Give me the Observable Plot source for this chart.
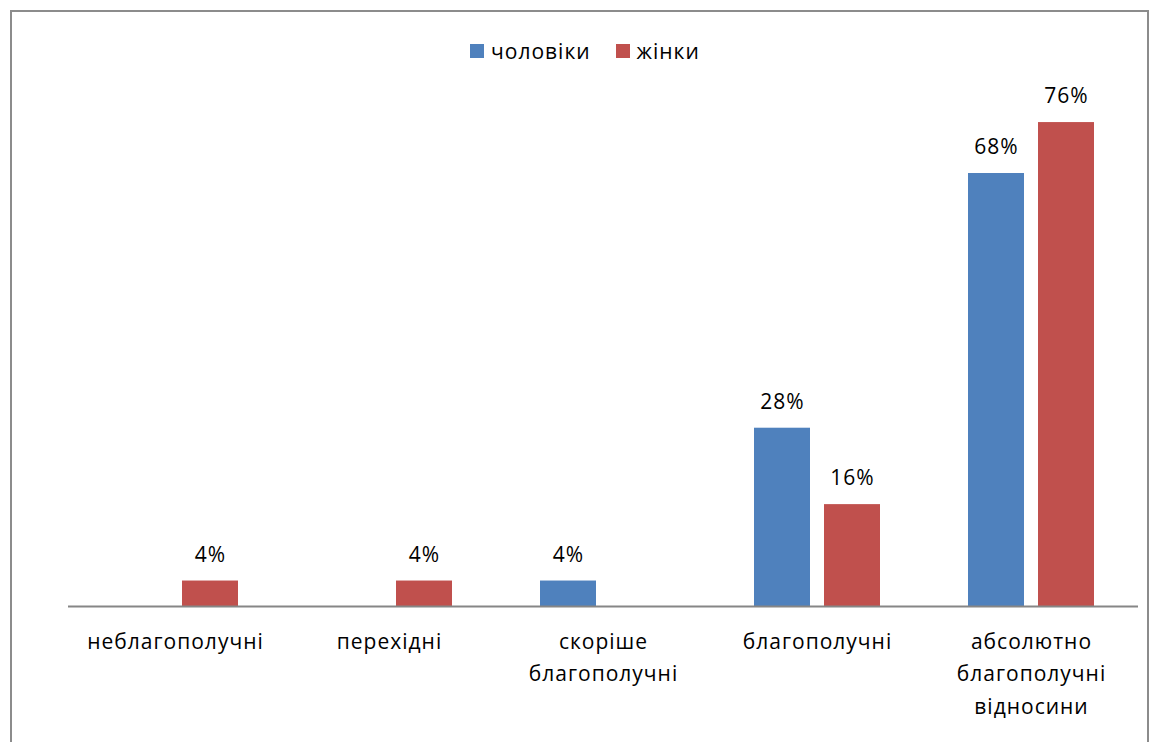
<!DOCTYPE html>
<html>
<head>
<meta charset="utf-8">
<script src="https://cdn.jsdelivr.net/npm/d3@7"></script>
<script src="https://cdn.jsdelivr.net/npm/@observablehq/plot@0.6"></script>
<style>
  body { margin: 0; background: #fff; }
  #wrap { position: relative; width: 1150px; height: 742px; overflow: hidden; font-family: "Open Sans", "Noto Sans", sans-serif; }
  #border { position: absolute; left: 10px; top: 10px; width: 1139px; height: 760px; border: 2px solid #8c8c8c; box-sizing: border-box; }
  #legend { position: absolute; left: 470px; top: 37px; display: flex; align-items: center; font-size: 21px; letter-spacing: 1px; color: #000; }
  #legend .sw { width: 14px; height: 14px; margin-right: 7px; display: inline-block; }
  #legend .item { display: flex; align-items: center; margin-right: 25px; }
  #chart { position: absolute; left: 0; top: 0; }
  #chart svg text { letter-spacing: 1px; }
</style>
</head>
<body>
<div id="wrap">
  <div id="border"></div>
  <div id="legend"></div>
  <div id="chart"></div>
</div>
<script>
const categories = ["неблагополучні", "перехідні", "скоріше\nблагополучні", "благополучні", "абсолютно\nблагополучні\nвідносини"];
const series = ["чоловіки", "жінки"];
const colors = ["#4F81BD", "#C0504D"];
const men = [0, 0, 4, 28, 68];
const women = [4, 4, 0, 16, 76];

const data = [];
categories.forEach((c, i) => {
  data.push({cat: c, series: series[0], value: men[i]});
  data.push({cat: c, series: series[1], value: women[i]});
});
const shown = data.filter(d => d.value > 0);

const legend = document.getElementById("legend");
series.forEach((s, i) => {
  const it = document.createElement("div");
  it.className = "item";
  it.innerHTML = `<span class="sw" style="background:${colors[i]}"></span><span>${s}</span>`;
  legend.appendChild(it);
});

const chart = Plot.plot({
  width: 1150,
  height: 742,
  marginLeft: 67,
  marginRight: 12,
  marginTop: 96.6,
  marginBottom: 136,
  style: {fontFamily: "'Open Sans', 'Noto Sans', sans-serif", fontSize: "21px", color: "#000", background: "transparent"},
  fx: {domain: categories, padding: 0, label: null},
  x: {domain: series, paddingInner: 0.197, paddingOuter: 0.606, axis: null},
  y: {domain: [0, 80], axis: null},
  color: {domain: series, range: colors},
  marks: [
    Plot.barY(shown, {fx: "cat", x: "series", y: "value", fill: "series"}),
    Plot.text(shown, {fx: "cat", x: "series", y: "value", text: d => d.value + "%", dy: -26, fontSize: 21, fill: "#000"}),
    Plot.ruleY([0], {stroke: "#868686", strokeWidth: 2}),
    Plot.axisFx({anchor: "bottom", tickSize: 0, tickPadding: 19, fontSize: 21, lineHeight: 1.55, label: null})
  ]
});
document.getElementById("chart").appendChild(chart);
</script>
</body>
</html>
